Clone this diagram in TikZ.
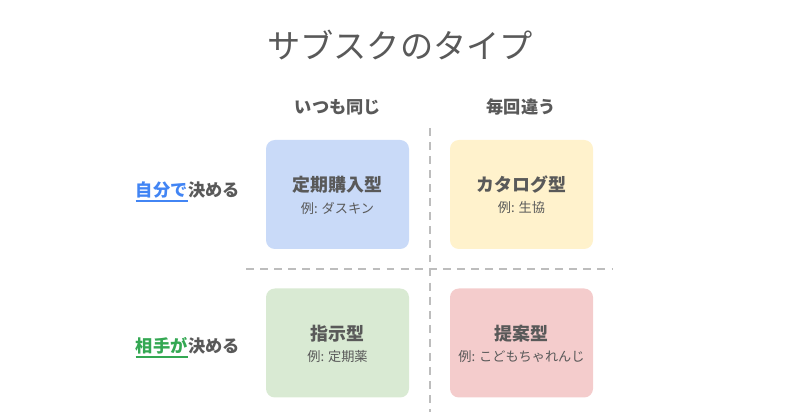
\documentclass[tikz,border=0pt]{standalone}
\usepackage{fontspec}
\setmainfont{Noto Sans CJK JP}
\usepackage{xcolor}
\usetikzlibrary{positioning}
\definecolor{textoGris}{HTML}{595959}
\definecolor{cajaAzul}{HTML}{C9DAF8}
\definecolor{cajaAmarilla}{HTML}{FFF2CC}
\definecolor{cajaVerde}{HTML}{D9EAD3}
\definecolor{cajaRosa}{HTML}{F4CCCC}
\definecolor{lineaGris}{HTML}{BDBDBD}
\definecolor{azulJibun}{HTML}{4285F4}
\definecolor{verdeAite}{HTML}{34A853}

\begin{document}
\begin{tikzpicture}[
  card/.style={rounded corners=5pt, minimum width=2.86cm, minimum height=2.18cm, inner sep=0pt},
  cardTitle/.style={textoGris, font=\fontsize{10.2}{12}\selectfont\bfseries},
  cardSub/.style={textoGris, font=\fontsize{7.5}{9}\selectfont},
  head/.style={textoGris, font=\fontsize{9.8}{12}\selectfont\bfseries},
  sep/.style={lineaGris, dashed, dash pattern=on 4.5pt off 3.5pt, line width=1.1pt},
  every node/.style={inner sep=0pt}
]
  \useasboundingbox (0,0) rectangle (16,8.38);

  % --- Titulo ---
  \node[textoGris, font=\fontsize{18.9}{22}\selectfont] (titulo) at (8.0, 7.48) {サブスクのタイプ};

  % --- Encabezados de columna ---
  \node[head] (colIgual)  at (6.76, 6.24)  {いつも同じ};
  \node[head] (colDistin) at (10.42, 6.24) {毎回違う};

  % --- Separadores punteados ---
  \coordinate (vArriba) at (8.6, 5.82);
  \coordinate (vAbajo)  at (8.6, 0.14);
  \coordinate (hIzq)    at (4.92, 3.0);
  \coordinate (hDer)    at (12.24, 3.0);
  \draw[sep] (vArriba) -- (vAbajo);
  \draw[sep] (hIzq) -- (hDer);

  % --- Etiquetas de fila ---
  \node[head, text=azulJibun, anchor=east] (filaA1) at (3.76, 4.58) {自分で};
  \node[head, anchor=base west] (filaA2) at (filaA1.base east) {決める};
  \draw[azulJibun, line width=1pt] ([yshift=-1.3pt]filaA1.south west) -- ([yshift=-1.3pt]filaA1.south east);

  \node[head, text=verdeAite, anchor=east] (filaB1) at (3.76, 1.46) {相手が};
  \node[head, anchor=base west] (filaB2) at (filaB1.base east) {決める};
  \draw[verdeAite, line width=1pt] ([yshift=-1.3pt]filaB1.south west) -- ([yshift=-1.3pt]filaB1.south east);

  % --- Cuadrantes ---
  \node[card, fill=cajaAzul] (teiki) at (6.75, 4.49) {};
  \node[cardTitle] at ([yshift=0.19cm]teiki.center) {定期購入型};
  \node[cardSub]   at ([yshift=-0.27cm]teiki.center) {例: ダスキン};

  \node[card, fill=cajaAmarilla] (katalog) at (10.43, 4.49) {};
  \node[cardTitle] at ([yshift=0.19cm]katalog.center) {カタログ型};
  \node[cardSub]   at ([yshift=-0.27cm]katalog.center) {例: 生協};

  \node[card, fill=cajaVerde] (shiji) at (6.75, 1.52) {};
  \node[cardTitle] at ([yshift=0.19cm]shiji.center) {指示型};
  \node[cardSub]   at ([yshift=-0.27cm]shiji.center) {例: 定期薬};

  \node[card, fill=cajaRosa] (teian) at (10.43, 1.52) {};
  \node[cardTitle] at ([yshift=0.19cm]teian.center) {提案型};
  \node[cardSub]   at ([yshift=-0.27cm]teian.center) {例: こどもちゃれんじ};
\end{tikzpicture}
\end{document}
